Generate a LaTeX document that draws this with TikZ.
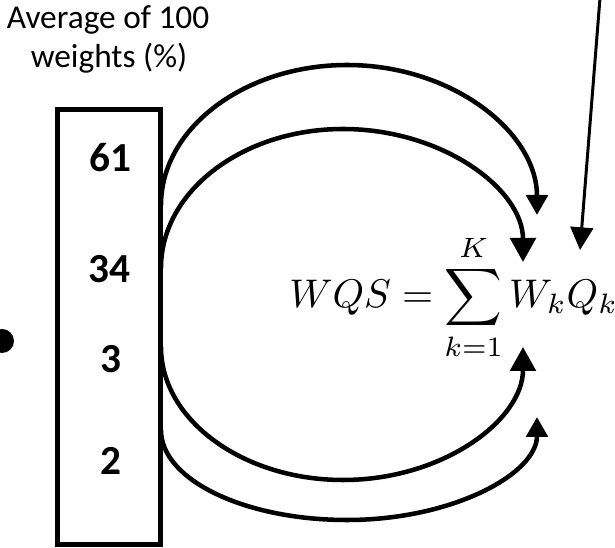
\documentclass[tikz,border=0pt]{standalone}
\usepackage{fontspec}
\setmainfont{Carlito}
\usepackage{graphicx}
\usetikzlibrary{arrows.meta}
\tikzset{
  arc/.style={line width=3.4pt},
  bigtip/.style={-{Triangle[length=18pt,width=19pt]}},
  smalltip/.style={-{Triangle[length=15pt,width=16pt]}},
  titletext/.style={inner sep=0pt, font=\fontsize{25}{30}\selectfont},
  numtext/.style={inner sep=0pt, font=\fontsize{31}{36}\selectfont\bfseries},
}
\begin{document}
\begin{tikzpicture}[x=0.75pt,y=-0.75pt]
\useasboundingbox (0,0) rectangle (615,548);
\clip (0,0) rectangle (615,548);
% title
\node[titletext, anchor=base] (title1) at (108,29) {Average of 100};
\node[titletext, anchor=base] (title2) at (109,68) {weights (\%)};
% box
\draw[line width=3.75pt] (57.5,110) rectangle (160,545);
\node[numtext] (n61) at (110,158) {61};
\node[numtext] (n34) at (109,269) {34};
\node[numtext] (n3) at (111,359) {3};
\node[numtext] (n2) at (111,461) {2};
% dot
\fill (2,341) circle (12);
% equation
\node[inner sep=0pt, anchor=base west] (eq) at (289,308)
  {\scalebox{3}{$\displaystyle WQS=\sum_{k=1}^{K}W_kQ_k$}};
% connector points
\coordinate (s1) at (161,205);
\coordinate (s2) at (161,268);
\coordinate (s3) at (161,347);
\coordinate (s4) at (161,430);
\coordinate (t1) at (537,215);
\coordinate (t2) at (523,262);
\coordinate (t3) at (523,347);
\coordinate (t4) at (537,417);
\coordinate (top1) at (347,65);
\coordinate (top2) at (343,129);
\coordinate (bot3) at (343,480);
\coordinate (bot4) at (347,520);
\coordinate (qs) at (600,-2);
\coordinate (qt) at (580,250);
% arcs
\draw[arc,smalltip] (s1) .. controls (161,128) and (245,65) .. (top1)
  .. controls (452,65) and (537,132) .. (t1);
\draw[arc,bigtip] (s2) .. controls (161,191) and (243,129) .. (top2)
  .. controls (442,129) and (523,189) .. (t2);
\draw[arc,bigtip] (s3) .. controls (161,420) and (243,480) .. (bot3)
  .. controls (443,480) and (523,420) .. (t3);
\draw[arc,smalltip] (s4) .. controls (161,480) and (245,520) .. (bot4)
  .. controls (452,520) and (537,474) .. (t4);
% straight arrow
\draw[line width=2.25pt,-{Triangle[length=17pt,width=17pt]}] (qs) -- (qt);
\end{tikzpicture}
\end{document}
